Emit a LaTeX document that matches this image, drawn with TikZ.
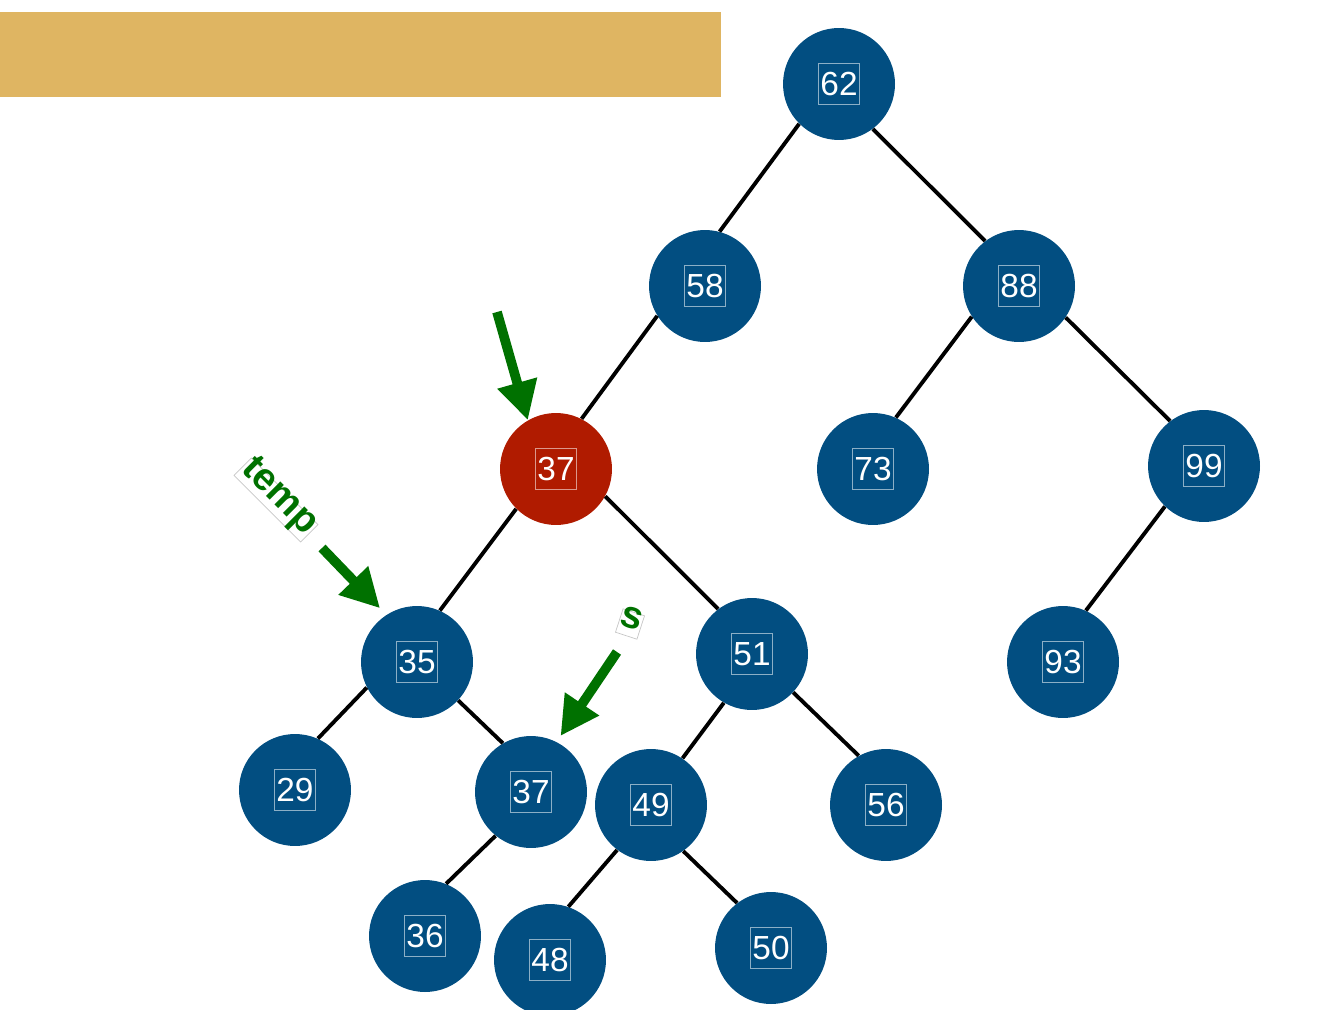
\documentclass[tikz,border=0pt]{standalone}
\usepackage{fontspec}
\setmainfont{Liberation Sans}
\usetikzlibrary{positioning,arrows.meta}
\definecolor{treeblue}{HTML}{024E81}
\definecolor{hotred}{HTML}{B01B00}
\definecolor{pointer}{HTML}{007100}
\definecolor{banner}{HTML}{DFB562}
\tikzset{
  numbox/.style={draw=white,draw opacity=0.55,line width=0.4pt,text=white,
    inner xsep=1pt,inner ysep=5pt,font=\fontsize{19}{22}\selectfont},
  key/.style={circle,fill=treeblue,minimum size=2.24cm,inner sep=0pt,
    label={[numbox]center:#1}},
  hotkey/.style={key=#1,fill=hotred},
  link/.style={line width=2.2pt,black},
  ptr/.style={line width=5.5pt,pointer,-{Triangle[length=22pt,width=22pt]}},
  tag/.style={draw=gray!45,line width=0.4pt,text=pointer,inner ysep=2pt,
    text height=0.75em,text depth=0.25em,font=\bfseries\fontsize{22}{26}\selectfont}
}
\begin{document}
\begin{tikzpicture}[x=0.02cm,y=-0.02cm]
\useasboundingbox (0,0) rectangle (1338,1010);
\fill[banner] (0,12) rectangle (721,97);

% tree
\node[key=62] (n62) at (839,84) {};
\node[key=58] (n58) at (705,286) {};
\node[key=88] (n88) at (1019,286) {};
\node[hotkey=37] (n37) at (556,469) {};
\node[key=73] (n73) at (873,469) {};
\node[key=99] (n99) at (1204,466) {};
\node[key=35] (n35) at (417,662) {};
\node[key=51] (n51) at (752,654) {};
\node[key=93] (n93) at (1063,662) {};
\node[key=29] (n29) at (295,790) {};
\node[key=37] (m37) at (531,792) {};
\node[key=49] (n49) at (651,805) {};
\node[key=56] (n56) at (886,805) {};
\node[key=36] (n36) at (425,936) {};
\node[key=48] (n48) at (550,960) {};
\node[key=50] (n50) at (771,948) {};

\draw[link] (n62.225) -- (n58.75);
\draw[link] (n62.-53) -- (n88.127);
\draw[link] (n58.212) -- (n37.63);
\draw[link] (n88.213) -- (n73.66);
\draw[link] (n88.-34) -- (n99.127);
\draw[link] (n37.225) -- (n35.66);
\draw[link] (n37.-29) -- (n51.127);
\draw[link] (n99.226) -- (n93.66);
\draw[link] (n35.207) -- (n29.66);
\draw[link] (n35.-43) -- (m37.120);
\draw[link] (n51.240) -- (n49.56);
\draw[link] (n51.-43) -- (n56.119);
\draw[link] (m37.231) -- (n36.68);
\draw[link] (n49.233) -- (n48.71);
\draw[link] (n49.-55) -- (n50.127);

% pointers
\coordinate (p1) at (497,312);
\coordinate (p2) at (322,548);
\coordinate (p3) at (617,652);
\draw[ptr] (p1) -- (n37.120);
\draw[ptr,shorten >=0.18cm] (p2) -- (n35.123);
\draw[ptr,shorten >=0.14cm] (p3) -- (m37.63);
\node[tag,rotate=-45,inner xsep=0.5pt] (ltemp) at (276,500) {temp};
\node[tag,rotate=-18,inner xsep=0.3pt] (ls) at (630,624) {s};
\end{tikzpicture}
\end{document}
